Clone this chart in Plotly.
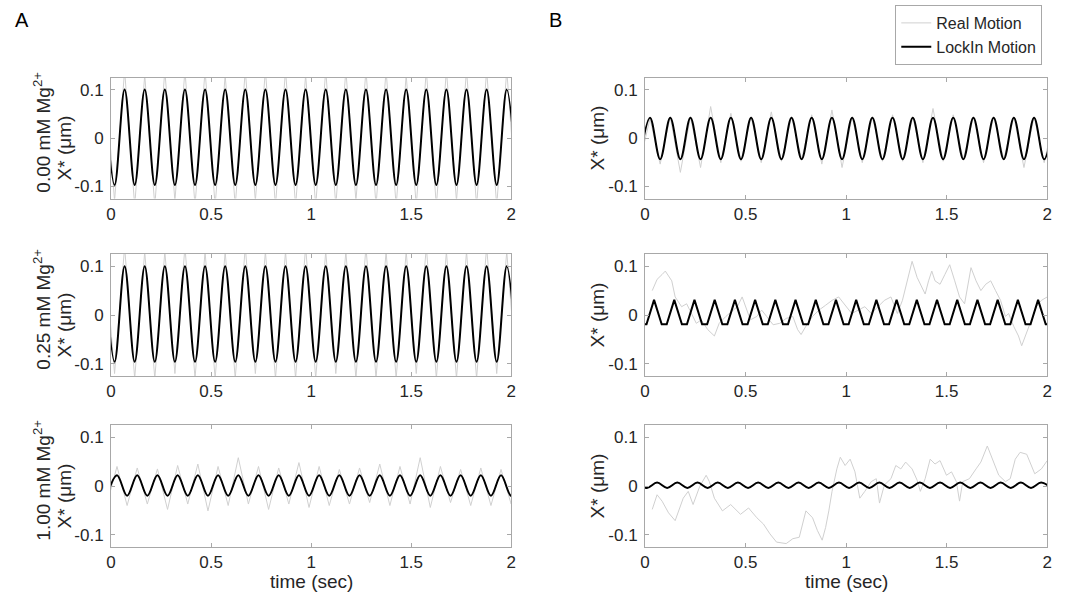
import plotly.graph_objects as go

# ---------------- data ----------------
time_ticks = [0, 0.5, 1, 1.5, 2]
time_ticktext = ["0", "0.5", "1", "1.5", "2"]
x_ticks = [-0.1, 0, 0.1]
x_ticktext = ["-0.1", "0", "0.1"]

conc_labels = ["0.00 mM Mg<sup>2+</sup>", "0.25 mM Mg<sup>2+</sup>", "1.00 mM Mg<sup>2+</sup>"]

# Column A, rows 1-2: times of extrema (peak first)
A12_t = [-0.0325, 0.0178, 0.0680, 0.1183, 0.1685, 0.2188, 0.2690, 0.3193, 0.3695, 0.4198,
         0.4700, 0.5203, 0.5705, 0.6208, 0.6710, 0.7213, 0.7715, 0.8218, 0.8720, 0.9223,
         0.9725, 1.0228, 1.0730, 1.1233, 1.1735, 1.2238, 1.2740, 1.3243, 1.3745, 1.4248,
         1.4750, 1.5253, 1.5755, 1.6258, 1.6760, 1.7263, 1.7765, 1.8268, 1.8770, 1.9273,
         1.9775, 2.0278]
A1_lock = [0.100, -0.097, 0.100, -0.097, 0.100, -0.097, 0.100, -0.097, 0.100, -0.097,
           0.100, -0.097, 0.100, -0.097, 0.100, -0.097, 0.100, -0.097, 0.100, -0.097,
           0.100, -0.097, 0.100, -0.097, 0.100, -0.097, 0.100, -0.097, 0.100, -0.097,
           0.100, -0.097, 0.100, -0.097, 0.100, -0.097, 0.100, -0.097, 0.100, -0.097,
           0.100, -0.097]
A1_real = [0.14, -0.13, 0.14, -0.14, 0.13, -0.14, 0.14, -0.13, 0.14, -0.14,
           0.14, -0.14, 0.13, -0.14, 0.14, -0.13, 0.14, -0.14, 0.14, -0.14,
           0.13, -0.14, 0.14, -0.14, 0.14, -0.13, 0.14, -0.14, 0.14, -0.14,
           0.13, -0.14, 0.14, -0.14, 0.14, -0.13, 0.14, -0.14, 0.14, -0.14,
           0.14, -0.14]
A2_lock = [0.100, -0.096, 0.100, -0.096, 0.100, -0.096, 0.100, -0.096, 0.100, -0.096,
           0.100, -0.096, 0.100, -0.096, 0.100, -0.096, 0.100, -0.096, 0.100, -0.096,
           0.100, -0.096, 0.100, -0.096, 0.100, -0.096, 0.100, -0.096, 0.100, -0.096,
           0.100, -0.096, 0.100, -0.096, 0.100, -0.096, 0.100, -0.096, 0.100, -0.096,
           0.100, -0.096]
A2_real = [0.13, -0.12, 0.14, -0.13, 0.13, -0.13, 0.13, -0.12, 0.14, -0.13,
           0.13, -0.13, 0.13, -0.13, 0.14, -0.12, 0.13, -0.13, 0.13, -0.13,
           0.14, -0.13, 0.13, -0.12, 0.13, -0.13, 0.14, -0.13, 0.13, -0.13,
           0.13, -0.12, 0.14, -0.13, 0.13, -0.13, 0.13, -0.13, 0.14, -0.12,
           0.13, -0.13]

# Column A, row 3: extrema (trough first)
A3_t = [-0.0205, 0.0300, 0.0805, 0.1310, 0.1815, 0.2320, 0.2825, 0.3330, 0.3835, 0.4340,
        0.4845, 0.5350, 0.5855, 0.6360, 0.6865, 0.7370, 0.7875, 0.8380, 0.8885, 0.9390,
        0.9895, 1.0400, 1.0905, 1.1410, 1.1915, 1.2420, 1.2925, 1.3430, 1.3935, 1.4440,
        1.4945, 1.5450, 1.5955, 1.6460, 1.6965, 1.7470, 1.7975, 1.8480, 1.8985, 1.9490,
        1.9995, 2.0500]
A3_lock = [-0.020, 0.022, -0.020, 0.022, -0.020, 0.022, -0.020, 0.022, -0.020, 0.022,
           -0.020, 0.022, -0.020, 0.022, -0.020, 0.022, -0.020, 0.022, -0.020, 0.022,
           -0.020, 0.022, -0.020, 0.022, -0.020, 0.022, -0.020, 0.022, -0.020, 0.022,
           -0.020, 0.022, -0.020, 0.022, -0.020, 0.022, -0.020, 0.022, -0.020, 0.022,
           -0.020, 0.022]
A3_real = [-0.037, 0.040, -0.040, 0.037, -0.037, 0.035, -0.048, 0.042, -0.037, 0.045,
           -0.051, 0.040, -0.040, 0.058, -0.037, 0.040, -0.048, 0.037, -0.037, 0.048,
           -0.044, 0.040, -0.040, 0.034, -0.037, 0.037, -0.034, 0.045, -0.040, 0.040,
           -0.037, 0.058, -0.044, 0.040, -0.034, 0.034, -0.040, 0.037, -0.040, 0.034,
           -0.037, 0.036]

# Column B, row 1: extrema (trough first)
B1_t = [-0.0253, 0.0250, 0.0753, 0.1255, 0.1758, 0.2260, 0.2763, 0.3265, 0.3768, 0.4270,
        0.4773, 0.5275, 0.5778, 0.6280, 0.6783, 0.7285, 0.7788, 0.8290, 0.8793, 0.9295,
        0.9798, 1.0300, 1.0803, 1.1305, 1.1808, 1.2310, 1.2813, 1.3315, 1.3818, 1.4320,
        1.4823, 1.5325, 1.5828, 1.6330, 1.6833, 1.7335, 1.7838, 1.8340, 1.8843, 1.9345,
        1.9848, 2.0350]
B1_lock = [-0.044, 0.042, -0.044, 0.042, -0.044, 0.042, -0.044, 0.042, -0.044, 0.042,
           -0.044, 0.042, -0.044, 0.042, -0.044, 0.042, -0.044, 0.042, -0.044, 0.042,
           -0.044, 0.042, -0.044, 0.042, -0.044, 0.042, -0.044, 0.042, -0.044, 0.042,
           -0.044, 0.042, -0.044, 0.042, -0.044, 0.042, -0.044, 0.042, -0.044, 0.042,
           -0.044, 0.042]
B1_real = [-0.048, 0.040, -0.054, 0.044, -0.071, 0.044, -0.061, 0.065, -0.051, 0.051,
           -0.048, 0.044, -0.051, 0.054, -0.048, 0.044, -0.044, 0.048, -0.054, 0.058,
           -0.061, 0.044, -0.051, 0.044, -0.048, 0.048, -0.048, 0.044, -0.051, 0.061,
           -0.048, 0.048, -0.044, 0.044, -0.051, 0.044, -0.044, 0.044, -0.061, 0.044,
           -0.051, 0.044]

# Column B, row 2: lock-in (flat-bottomed) and drifting real motion
B2_lock_t = [-0.0175, 0.0075, 0.0450, 0.0830, 0.1080, 0.1455, 0.1835, 0.2085, 0.2460, 0.2840,
             0.3090, 0.3465, 0.3845, 0.4095, 0.4470, 0.4850, 0.5100, 0.5475, 0.5855, 0.6105,
             0.6480, 0.6860, 0.7110, 0.7485, 0.7865, 0.8115, 0.8490, 0.8870, 0.9120, 0.9495,
             0.9875, 1.0125, 1.0500, 1.0880, 1.1130, 1.1505, 1.1885, 1.2135, 1.2510, 1.2890,
             1.3140, 1.3515, 1.3895, 1.4145, 1.4520, 1.4900, 1.5150, 1.5525, 1.5905, 1.6155,
             1.6530, 1.6910, 1.7160, 1.7535, 1.7915, 1.8165, 1.8540, 1.8920, 1.9170, 1.9545,
             1.9925, 2.0175, 2.0550]
B2_lock = [-0.019, -0.019, 0.031, -0.019, -0.019, 0.031, -0.019, -0.019, 0.031, -0.019,
           -0.019, 0.031, -0.019, -0.019, 0.031, -0.019, -0.019, 0.031, -0.019, -0.019,
           0.031, -0.019, -0.019, 0.031, -0.019, -0.019, 0.031, -0.019, -0.019, 0.031,
           -0.019, -0.019, 0.031, -0.019, -0.019, 0.031, -0.019, -0.019, 0.031, -0.019,
           -0.019, 0.031, -0.019, -0.019, 0.031, -0.019, -0.019, 0.031, -0.019, -0.019,
           0.031, -0.019, -0.019, 0.031, -0.019, -0.019, 0.031, -0.019, -0.019, 0.031,
           -0.019, -0.019, 0.031]
B2_real_t = [0.036, 0.060, 0.085, 0.101, 0.117, 0.133, 0.150, 0.182, 0.207, 0.231,
             0.255, 0.280, 0.312, 0.345, 0.369, 0.402, 0.442, 0.459, 0.483, 0.499,
             0.524, 0.556, 0.580, 0.605, 0.637, 0.670, 0.702, 0.735, 0.759, 0.776,
             0.800, 0.833, 0.865, 0.898, 0.930, 0.963, 0.995, 1.028, 1.060, 1.093,
             1.125, 1.158, 1.190, 1.223, 1.255, 1.280, 1.304, 1.328, 1.353, 1.377,
             1.393, 1.410, 1.426, 1.442, 1.467, 1.491, 1.515, 1.540, 1.564, 1.589,
             1.605, 1.621, 1.646, 1.670, 1.694, 1.719, 1.743, 1.768, 1.792, 1.808,
             1.833, 1.857, 1.873, 1.898, 1.922, 1.946, 1.971, 2.000]
B2_real = [0.050, 0.073, 0.083, 0.090, 0.080, 0.070, 0.037, 0.017, 0.023, 0.003,
           -0.017, -0.010, -0.030, -0.043, -0.017, -0.003, 0.010, 0.017, 0.037, 0.017,
           -0.010, -0.003, 0.010, -0.003, -0.020, -0.017, -0.007, -0.003, -0.030, -0.040,
           -0.023, -0.003, 0.010, 0.020, 0.030, 0.037, 0.020, 0.003, 0.010, 0.017,
           0.003, 0.017, 0.030, 0.037, 0.003, 0.030, 0.070, 0.110, 0.077, 0.057,
           0.043, 0.070, 0.090, 0.070, 0.063, 0.083, 0.103, 0.070, 0.037, 0.023,
           0.057, 0.097, 0.070, 0.050, 0.063, 0.070, 0.050, 0.030, -0.003, 0.003,
           -0.023, -0.043, -0.063, -0.037, -0.010, 0.017, 0.030, 0.037]

# Column B, row 3: extrema (peak first) and drifting real motion
B3_t = [-0.0405, 0.0098, 0.0600, 0.1103, 0.1605, 0.2108, 0.2610, 0.3113, 0.3615, 0.4118,
        0.4620, 0.5123, 0.5625, 0.6128, 0.6630, 0.7133, 0.7635, 0.8138, 0.8640, 0.9143,
        0.9645, 1.0148, 1.0650, 1.1153, 1.1655, 1.2158, 1.2660, 1.3163, 1.3665, 1.4168,
        1.4670, 1.5173, 1.5675, 1.6178, 1.6680, 1.7183, 1.7685, 1.8188, 1.8690, 1.9193,
        1.9695, 2.0198]
B3_lock = [0.007, -0.004, 0.007, -0.004, 0.007, -0.004, 0.007, -0.004, 0.007, -0.004,
           0.007, -0.004, 0.007, -0.004, 0.007, -0.004, 0.007, -0.004, 0.007, -0.004,
           0.007, -0.004, 0.007, -0.004, 0.007, -0.004, 0.007, -0.004, 0.007, -0.004,
           0.007, -0.004, 0.007, -0.004, 0.007, -0.004, 0.007, -0.004, 0.007, -0.004,
           0.007, -0.004]
B3_real_t = [0.036, 0.060, 0.085, 0.117, 0.150, 0.190, 0.215, 0.239, 0.272, 0.304,
             0.320, 0.345, 0.385, 0.426, 0.475, 0.515, 0.556, 0.589, 0.621, 0.654,
             0.702, 0.735, 0.767, 0.784, 0.800, 0.833, 0.857, 0.881, 0.898, 0.914,
             0.930, 0.954, 0.971, 0.995, 1.020, 1.044, 1.068, 1.093, 1.125, 1.150,
             1.166, 1.190, 1.223, 1.247, 1.272, 1.296, 1.328, 1.353, 1.369, 1.393,
             1.418, 1.442, 1.467, 1.499, 1.524, 1.548, 1.564, 1.580, 1.613, 1.646,
             1.670, 1.702, 1.727, 1.759, 1.792, 1.816, 1.841, 1.865, 1.898, 1.914,
             1.938, 1.971, 2.000]
B3_real = [-0.048, -0.018, -0.031, -0.055, -0.071, -0.025, -0.011, -0.038, -0.001, 0.022,
           0.009, -0.025, -0.051, -0.038, -0.058, -0.045, -0.065, -0.078, -0.098, -0.115,
           -0.118, -0.108, -0.105, -0.078, -0.051, -0.065, -0.091, -0.111, -0.085, -0.051,
           -0.011, 0.035, 0.059, 0.042, 0.055, 0.029, -0.025, -0.011, 0.009, 0.015,
           -0.035, 0.002, 0.015, 0.042, 0.035, 0.049, 0.035, 0.012, -0.011, 0.015,
           0.055, 0.045, 0.052, 0.022, 0.029, 0.009, -0.031, 0.009, 0.015, 0.035,
           0.049, 0.082, 0.055, 0.022, 0.009, 0.015, 0.055, 0.069, 0.065, 0.049,
           0.025, 0.035, 0.052]

# ---------------- layout / styling ----------------
W, H = 1077, 603
COL_PX = {"A": (107, 511), "B": (646, 1052)}
ROW_PX = [(77.5, 198.5), (254, 376), (425, 547)]
GREY = "#d0d0d0"
AXC = "#a8a8a8"
TXT = "#262626"
FONT = "Liberation Sans, Arial, sans-serif"


def xdom(c):
    a, b = COL_PX[c]
    return [a / W, b / W]


def ydom(r):
    top, bot = ROW_PX[r]
    return [1 - bot / H, 1 - top / H]


panels = [
    # (col, row, real_t, real_x, lock_t, lock_x, lock_shape)
    ("A", 0, A12_t, A1_real, A12_t, A1_lock, "spline"),
    ("B", 0, B1_t, B1_real, B1_t, B1_lock, "spline"),
    ("A", 1, A12_t, A2_real, A12_t, A2_lock, "spline"),
    ("B", 1, B2_real_t, B2_real, B2_lock_t, B2_lock, "linear"),
    ("A", 2, A3_t, A3_real, A3_t, A3_lock, "spline"),
    ("B", 2, B3_real_t, B3_real, B3_t, B3_lock, "spline"),
]

fig = go.Figure()
layout = {}
for i, (col, row, rt, rx, lt, lx, shape) in enumerate(panels):
    n = i + 1
    xa = "x" if n == 1 else f"x{n}"
    ya = "y" if n == 1 else f"y{n}"
    fig.add_trace(go.Scatter(x=rt, y=rx, mode="lines", xaxis=xa, yaxis=ya,
                             line=dict(color=GREY, width=1),
                             name="Real Motion", showlegend=(n == 1), legendrank=1))
    fig.add_trace(go.Scatter(x=lt, y=lx, mode="lines", xaxis=xa, yaxis=ya,
                             line=dict(color="black", width=2, shape=shape),
                             name="LockIn Motion", showlegend=(n == 1), legendrank=2))
    common = dict(showline=True, linecolor=AXC, linewidth=1, mirror="ticks",
                  ticks="inside", ticklen=4, tickcolor=AXC, showgrid=False,
                  zeroline=False, tickfont=dict(size=17, color=TXT, family=FONT))
    layout["xaxis" if n == 1 else f"xaxis{n}"] = dict(
        domain=xdom(col), range=[0, 2], tickvals=time_ticks, ticktext=time_ticktext,
        anchor=ya, **common)
    layout["yaxis" if n == 1 else f"yaxis{n}"] = dict(
        domain=ydom(row), range=[-0.125, 0.125], tickvals=x_ticks, ticktext=x_ticktext,
        anchor=xa, ticklabelstandoff=3, **common)

fig.update_layout(**layout)


def label(text, px, py, size=19, angle=0, color=TXT):
    return dict(text=text, x=px / W, y=1 - py / H, xref="paper", yref="paper",
                xanchor="center", yanchor="middle", showarrow=False, textangle=angle,
                font=dict(size=size, color=color, family=FONT))


ann = [label("A", 17, 20, size=20, color="black"),
       label("B", 556, 20, size=20, color="black")]
for r in range(3):
    top, bot = ROW_PX[r]
    cy = (top + bot) / 2
    ann.append(label(conc_labels[r], 37, cy - 6, angle=-90))
    ann.append(label("X* (μm)", 60, cy + 10, angle=-90))
    ann.append(label("X* (μm)", 598, cy, angle=-90))
for c in ("A", "B"):
    a, b = COL_PX[c]
    ann.append(label("time (sec)", (a + b) / 2, 581))

fig.update_layout(
    width=W, height=H, margin=dict(l=0, r=0, t=0, b=0),
    paper_bgcolor="white", plot_bgcolor="white",
    font=dict(family=FONT, color=TXT),
    annotations=ann,
    legend=dict(x=1047 / W, y=1 - 5 / H, xanchor="right", yanchor="top",
                bgcolor="white", bordercolor=AXC, borderwidth=1,
                font=dict(size=16, color=TXT, family=FONT), tracegroupgap=0,
                itemwidth=30),
)

fig.write_html("out.html", config={"displayModeBar": False},
               post_script="document.body.style.margin='0';document.body.style.overflow='hidden';")
